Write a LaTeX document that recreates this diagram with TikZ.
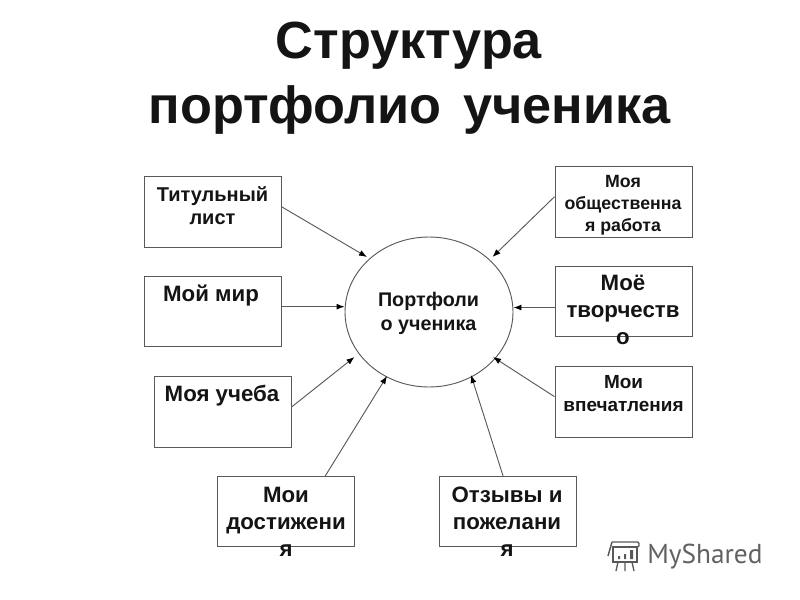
\documentclass[tikz,border=0pt]{standalone}
\usepackage{fontspec}
\setmainfont{Liberation Sans}
\newfontfamily\markfont{PT Sans}
\usetikzlibrary{arrows.meta,positioning,shapes.geometric}
\newcommand{\clrline}{black!65}
\newcommand{\clrtext}{black!92}

\tikzset{
    box/.style={draw=\clrline, line width=0.7pt, fill=white, minimum width=102.75pt, minimum height=52pt},
    tallbox/.style={box, minimum height=53.25pt},
    txt/.style={anchor=north, align=center, inner sep=0pt, text=\clrtext},
    titletxt/.style={anchor=base, inner sep=0pt, text=\clrtext, font=\fontsize{39.2}{49}\selectfont\bfseries},
    bigtxt/.style={txt, font=\fontsize{16.7}{20.2}\selectfont\bfseries},
    midtxt/.style={txt, font=\fontsize{15}{17.3}\selectfont\bfseries},
    onetxt/.style={txt, font=\fontsize{16.7}{20}\selectfont\bfseries},
    smalltxt/.style={txt, font=\fontsize{13.3}{16.5}\selectfont\bfseries},
    viewtxt/.style={txt, font=\fontsize{14.2}{17.3}\selectfont\bfseries},
    porttxt/.style={txt, font=\fontsize{14.8}{18}\selectfont\bfseries},
    arr/.style={draw=\clrline, line width=0.7pt, -{Latex[length=6pt,width=4.5pt,black]}}
}

\begin{document}
\begin{tikzpicture}[x=0.75pt,y=-0.75pt]
    \useasboundingbox (0,0) rectangle (800,600);

    \node[titletxt] (title1) at (409,58) {Структура};
    \node[titletxt] (title2) at (409.5,123) {портфолио\hspace{5pt} ученика};

    \node[draw=\clrline, line width=0.7pt, ellipse, minimum width=126pt, minimum height=112.5pt, inner sep=0pt] (port) at (429,312) {};
    \node[porttxt] (porttext) at (428.5,292) {Портфоли\\о ученика};

    \node[tallbox] (titul) at (212.5,211.5) {};
    \node[box] (mir) at (212.5,311.5) {};
    \node[tallbox] (ucheba) at (223,411.5) {};
    \node[box] (dost) at (286,511.5) {};
    \node[box] (otz) at (507.5,511.5) {};
    \node[tallbox] (obsh) at (623.5,201.5) {};
    \node[box] (tvor) at (623.5,301.5) {};
    \node[tallbox] (vpech) at (623.5,401.5) {};

    \node[midtxt] (titultxt) at (212.5,186) {Титульный\\лист};
    \node[onetxt] (mirtxt) at (211,285) {Мой мир};
    \node[onetxt] (uchebatxt) at (222,385) {Моя учеба};
    \node[bigtxt] (dosttxt) at (286,487) {Мои\\достижени\\я};
    \node[bigtxt] (otztxt) at (507,487) {Отзывы и\\пожелани\\я};
    \node[smalltxt] (obshtxt) at (623,175) {Моя\\общественна\\я работа};
    \node[bigtxt] (tvortxt) at (623,275) {Моё\\творчеств\\о};
    \node[viewtxt] (vpechtxt) at (623.5,375) {Мои\\впечатления};

    \coordinate (endtitul) at (367,257);
    \coordinate (enducheba) at (354.5,357);
    \coordinate (enddost) at (387,376);
    \coordinate (endotz) at (471,375);
    \coordinate (endobsh) at (492.5,257);
    \coordinate (endvpech) at (493,357);

    \draw[arr] (titul.4) -- (endtitul);
    \draw[arr] (mir.4) -- (port.west |- mir.4);
    \draw[arr] (ucheba.4) -- (enducheba);
    \draw[arr] (dost.42) -- (enddost);
    \draw[arr] (otz.97) -- (endotz);
    \draw[arr] (obsh.176) -- (endobsh);
    \draw[arr] (tvor.185) -- (port.east |- tvor.185);
    \draw[arr] (vpech.176) -- (endvpech);

    % watermark
    \node[anchor=base west, inner sep=0pt, text=black!62] (mark) at (647,563) {\markfont\fontsize{20.5}{24}\selectfont MyShared};
    \draw[black!65, line width=1.1pt, rounded corners=1pt] (612,542) -- (639,542) -- (639,547) -- (612,547);
    \draw[black!65, line width=1.1pt] (612,542) -- (608,556);
    \draw[black!65, line width=1.1pt] (613,547) rectangle (637,562);
    \fill[black!65] (618,556) rectangle (620,559) (624,554) rectangle (626,559) (630,550) rectangle (633,559);
    \draw[black!65, line width=1pt] (618,562) -- (616,571) (625,562) -- (625,571) (632,562) -- (634,571);
\end{tikzpicture}
\end{document}
